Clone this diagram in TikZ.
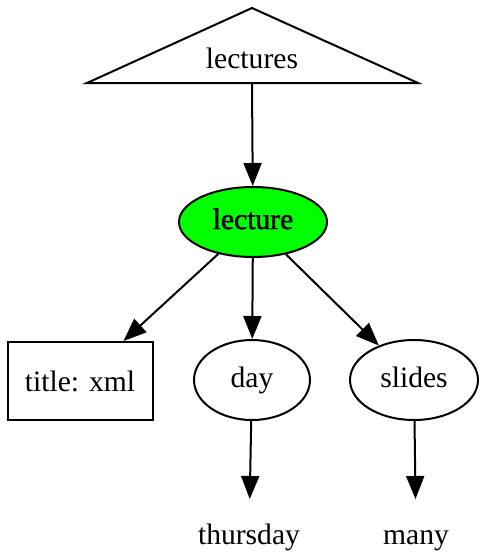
\documentclass[tikz,border=0pt]{standalone}
\usepackage{fontspec}
\setmainfont{Liberation Serif}
\newfontfamily\heavyfont[FakeBold=1.6]{Liberation Serif}
\usetikzlibrary{shapes,arrows.meta,positioning}
\definecolor{lecgreen}{RGB}{0,255,0}

\begin{document}
\begin{tikzpicture}[
    x=0.5pt, y=-0.5pt,
    font=\fontsize{14.8}{17}\selectfont,
    line width=1pt,
    oval/.style={ellipse, draw, line width=1pt, inner sep=0pt, text height=10pt, text depth=3pt},
    box/.style={rectangle, draw, line width=1pt, minimum width=72.5pt, minimum height=39pt},
    plain/.style={minimum height=37pt, inner sep=0pt, text height=10pt, text depth=3pt},
    link/.style={-{Triangle[width=9pt,length=11.5pt]}, line width=1pt},
]
\useasboundingbox (0,0) rectangle (481,553);

% Root triangle
\draw[line join=miter] (87,83) -- (252,8) -- (418,83) -- cycle;
\node (lectures) at (252,58) {lectures};
\coordinate (lecbase) at (252,83);

% Middle node
\node[oval, fill=lecgreen, minimum width=74pt, minimum height=35pt] (lecture) at (253,222) {\heavyfont lecture};

% Children
\node[box] (title) at (80,381) {title: xml};
\node[oval, minimum width=58pt, minimum height=40pt] (day) at (252,380) {day};
\node[oval, minimum width=64pt, minimum height=40pt] (slides) at (414,380) {slides};

% Leaves
\node[plain] (thursday) at (249,537) {thursday};
\node[plain] (many) at (416,537) {many};

% Edges
\draw[link] (lecbase) -- (lecture);
\draw[link] (lecture) -- (title);
\draw[link] (lecture) -- (day);
\draw[link] (lecture) -- (slides);
\draw[link] (day) -- (thursday);
\draw[link] (slides) -- (many);

\end{tikzpicture}
\end{document}
